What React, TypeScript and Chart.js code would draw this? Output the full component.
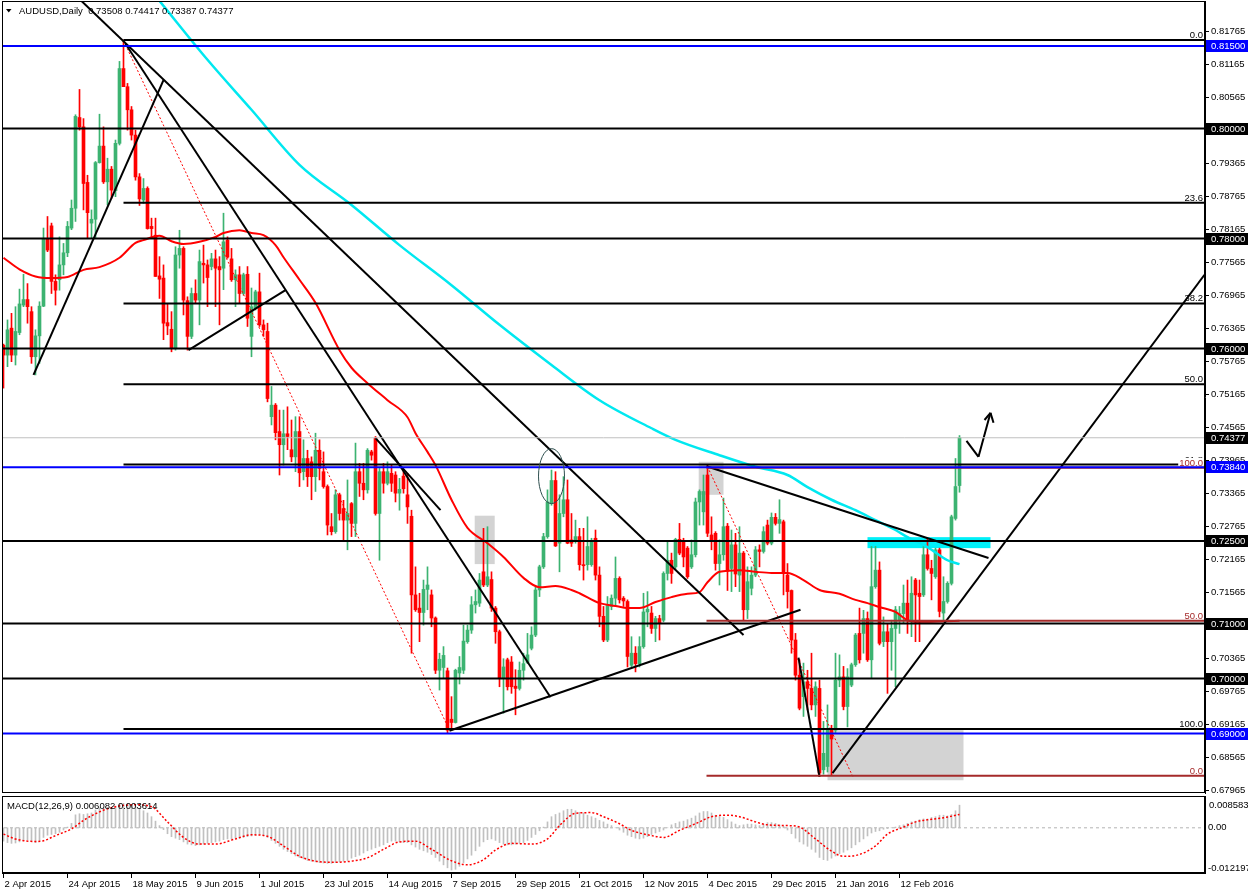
import { useEffect, useRef } from "react";
import { Chart, registerables } from "chart.js";

Chart.register(...registerables);

// AUDUSD daily, bar 0 = 2 Apr 2015
const dateLabels = [
  "2 Apr 2015", "24 Apr 2015", "18 May 2015", "9 Jun 2015", "1 Jul 2015", "23 Jul 2015", "14 Aug 2015",
  "7 Sep 2015", "29 Sep 2015", "21 Oct 2015", "12 Nov 2015", "4 Dec 2015", "29 Dec 2015", "21 Jan 2016", "12 Feb 2016",
];
const dateTickBars = [0, 16, 32, 48, 64, 80, 96, 112, 128, 144, 160, 176, 192, 208, 224];

const opens = [
  0.7606, 0.7588, 0.7637, 0.7588, 0.7629, 0.7679, 0.7689, 0.7667, 0.7585, 0.7623,
  0.7677, 0.7800, 0.7823, 0.7722, 0.7725, 0.7752, 0.7774, 0.7819, 0.7855, 0.8020,
  0.8003, 0.7902, 0.7828, 0.7835, 0.7938, 0.7968, 0.7903, 0.7926, 0.7887, 0.7973,
  0.8109, 0.8076, 0.8034, 0.7988, 0.7912, 0.7870, 0.7891, 0.7822, 0.7806, 0.7732,
  0.7728, 0.7647, 0.7635, 0.7600, 0.7770, 0.7782, 0.7687, 0.7622, 0.7700, 0.7688,
  0.7755, 0.7752, 0.7749, 0.7763, 0.7749, 0.7746, 0.7797, 0.7763, 0.7725, 0.7734,
  0.7700, 0.7735, 0.7622, 0.7673, 0.7703, 0.7643, 0.7631, 0.7476, 0.7497, 0.7449,
  0.7425, 0.7445, 0.7416, 0.7403, 0.7449, 0.7376, 0.7400, 0.7394, 0.7367, 0.7415,
  0.7376, 0.7349, 0.7276, 0.7267, 0.7334, 0.7309, 0.7288, 0.7318, 0.7282, 0.7376,
  0.7355, 0.7343, 0.7412, 0.7437, 0.7300, 0.7376, 0.7355, 0.7373, 0.7370, 0.7337,
  0.7368, 0.7334, 0.7295, 0.7152, 0.7128, 0.7120, 0.7162, 0.7152, 0.7110, 0.7015,
  0.7020, 0.7014, 0.6926, 0.6920, 0.7010, 0.7015, 0.7067, 0.7088, 0.7134, 0.7137,
  0.7194, 0.7170, 0.7180, 0.7128, 0.7085, 0.7000, 0.7034, 0.7030, 0.6986, 0.6982,
  0.7015, 0.7029, 0.7055, 0.7079, 0.7161, 0.7203, 0.7258, 0.7318, 0.7360, 0.7246,
  0.7300, 0.7325, 0.7252, 0.7252, 0.7258, 0.7207, 0.7207, 0.7207, 0.7255, 0.7188,
  0.7113, 0.7070, 0.7131, 0.7146, 0.7182, 0.7146, 0.7140, 0.7024, 0.7046, 0.7027,
  0.7058, 0.7121, 0.7119, 0.7091, 0.7109, 0.7106, 0.7191, 0.7215, 0.7203, 0.7253,
  0.7249, 0.7237, 0.7203, 0.7225, 0.7321, 0.7303, 0.7370, 0.7261, 0.7264, 0.7209,
  0.7225, 0.7277, 0.7200, 0.7243, 0.7188, 0.7228, 0.7125, 0.7164, 0.7188, 0.7234,
  0.7231, 0.7279, 0.7246, 0.7293, 0.7282, 0.7285, 0.7188, 0.7160, 0.7070, 0.7006,
  0.6967, 0.6994, 0.6982, 0.6952, 0.6982, 0.6834, 0.6840, 0.6906, 0.6906, 0.6997,
  0.7003, 0.6949, 0.6988, 0.7025, 0.7082, 0.7082, 0.7109, 0.7034, 0.7167, 0.7197,
  0.7067, 0.7085, 0.7067, 0.7091, 0.7106, 0.7118, 0.7137, 0.7106, 0.7179, 0.7155,
  0.7152, 0.7225, 0.7200, 0.7185, 0.7234, 0.7119, 0.7140, 0.7173, 0.7291, 0.73508,
];
const highs = [
  0.7608, 0.7652, 0.7664, 0.7676, 0.7708, 0.7735, 0.7718, 0.7676, 0.7634, 0.7685,
  0.7819, 0.7840, 0.7828, 0.7734, 0.7803, 0.7791, 0.7831, 0.7870, 0.8025, 0.8071,
  0.8018, 0.7915, 0.7852, 0.7940, 0.8026, 0.8003, 0.7946, 0.7931, 0.7979, 0.8122,
  0.8161, 0.8082, 0.8040, 0.7997, 0.7918, 0.7909, 0.7894, 0.7837, 0.7837, 0.7767,
  0.7752, 0.7682, 0.7667, 0.7785, 0.7815, 0.7785, 0.7694, 0.7710, 0.7725, 0.7779,
  0.7788, 0.7761, 0.7773, 0.7779, 0.7767, 0.7846, 0.7803, 0.7782, 0.7743, 0.7749,
  0.7737, 0.7749, 0.7710, 0.7706, 0.7737, 0.7652, 0.7646, 0.7531, 0.7500, 0.7488,
  0.7488, 0.7494, 0.7470, 0.7476, 0.7476, 0.7434, 0.7415, 0.7403, 0.7446, 0.7434,
  0.7412, 0.7352, 0.7300, 0.7343, 0.7337, 0.7324, 0.7361, 0.7320, 0.7428, 0.7391,
  0.7391, 0.7418, 0.7415, 0.7440, 0.7382, 0.7391, 0.7394, 0.7388, 0.7376, 0.7364,
  0.7376, 0.7373, 0.7306, 0.7203, 0.7155, 0.7179, 0.7203, 0.7161, 0.7112, 0.7046,
  0.7058, 0.7019, 0.6967, 0.7017, 0.7040, 0.7097, 0.7097, 0.7149, 0.7161, 0.7191,
  0.7273, 0.7276, 0.7194, 0.7131, 0.7088, 0.7036, 0.7037, 0.7040, 0.7016, 0.7030,
  0.7046, 0.7082, 0.7094, 0.7167, 0.7206, 0.7264, 0.7343, 0.7379, 0.7376, 0.7334,
  0.7367, 0.7361, 0.7300, 0.7288, 0.7273, 0.7273, 0.7294, 0.7255, 0.7270, 0.7203,
  0.7131, 0.7149, 0.7152, 0.7221, 0.7185, 0.7149, 0.7143, 0.7076, 0.7058, 0.7076,
  0.7155, 0.7158, 0.7131, 0.7113, 0.7115, 0.7194, 0.7249, 0.7228, 0.7255, 0.7282,
  0.7255, 0.7240, 0.7252, 0.7328, 0.7343, 0.7370, 0.7388, 0.7294, 0.7267, 0.7252,
  0.7328, 0.7282, 0.7270, 0.7264, 0.7276, 0.7231, 0.7203, 0.7203, 0.7240, 0.7243,
  0.7276, 0.7288, 0.7301, 0.7300, 0.7325, 0.7288, 0.7209, 0.7161, 0.7082, 0.7034,
  0.7028, 0.7015, 0.7046, 0.6994, 0.6997, 0.6922, 0.6952, 0.6915, 0.7046, 0.7043,
  0.7022, 0.7018, 0.7028, 0.7082, 0.7128, 0.7124, 0.7121, 0.7240, 0.7240, 0.7212,
  0.7112, 0.7100, 0.7106, 0.7131, 0.7131, 0.7170, 0.7179, 0.7185, 0.7182, 0.7179,
  0.7240, 0.7255, 0.7215, 0.7237, 0.7237, 0.7185, 0.7176, 0.7297, 0.7400, 0.74417,
];
const lows = [
  0.7528, 0.7567, 0.7576, 0.7570, 0.7625, 0.7676, 0.7646, 0.7573, 0.7552, 0.7573,
  0.7676, 0.7776, 0.7700, 0.7679, 0.7706, 0.7734, 0.7767, 0.7816, 0.7831, 0.7997,
  0.7852, 0.7800, 0.7800, 0.7800, 0.7937, 0.7900, 0.7861, 0.7873, 0.7876, 0.7970,
  0.8076, 0.7997, 0.7979, 0.7906, 0.7860, 0.7864, 0.7817, 0.7803, 0.7731, 0.7691,
  0.7616, 0.7625, 0.7594, 0.7597, 0.7746, 0.7661, 0.7597, 0.7618, 0.7682, 0.7643,
  0.7719, 0.7676, 0.7743, 0.7676, 0.7643, 0.7707, 0.7764, 0.7722, 0.7676, 0.7682,
  0.7697, 0.7640, 0.7585, 0.7670, 0.7640, 0.7622, 0.7503, 0.7461, 0.7434, 0.7370,
  0.7388, 0.7416, 0.7394, 0.7376, 0.7349, 0.7361, 0.7349, 0.7325, 0.7340, 0.7361,
  0.7346, 0.7261, 0.7261, 0.7264, 0.7288, 0.7249, 0.7234, 0.7258, 0.7258, 0.7331,
  0.7325, 0.7337, 0.7397, 0.7297, 0.7215, 0.7337, 0.7352, 0.7340, 0.7321, 0.7306,
  0.7337, 0.7282, 0.7046, 0.7122, 0.7067, 0.7097, 0.7125, 0.7094, 0.7009, 0.6979,
  0.7000, 0.6901, 0.6906, 0.6919, 0.6990, 0.7009, 0.7064, 0.7082, 0.7119, 0.7131,
  0.7167, 0.7167, 0.7122, 0.7064, 0.6985, 0.6937, 0.6979, 0.6973, 0.6934, 0.6979,
  0.6997, 0.7027, 0.7052, 0.7076, 0.7149, 0.7200, 0.7255, 0.7315, 0.7240, 0.7194,
  0.7294, 0.7245, 0.7240, 0.7246, 0.7197, 0.7179, 0.7197, 0.7204, 0.7179, 0.7094,
  0.7067, 0.7067, 0.7125, 0.7131, 0.7137, 0.7131, 0.7021, 0.7021, 0.7012, 0.7021,
  0.7055, 0.7094, 0.7082, 0.7067, 0.7070, 0.7103, 0.7179, 0.7173, 0.7200, 0.7225,
  0.7203, 0.7182, 0.7200, 0.7221, 0.7279, 0.7279, 0.7258, 0.7234, 0.7197, 0.7170,
  0.7215, 0.7160, 0.7158, 0.7167, 0.7158, 0.7106, 0.7109, 0.7152, 0.7185, 0.7203,
  0.7228, 0.7243, 0.7243, 0.7279, 0.7264, 0.7152, 0.7128, 0.7046, 0.6997, 0.6943,
  0.6931, 0.6943, 0.6943, 0.6931, 0.6822, 0.6826, 0.6830, 0.6825, 0.6900, 0.6985,
  0.6943, 0.6912, 0.6985, 0.7022, 0.7028, 0.7046, 0.7031, 0.7000, 0.7164, 0.7061,
  0.7058, 0.6973, 0.7015, 0.6985, 0.7082, 0.7100, 0.7082, 0.7076, 0.7067, 0.7067,
  0.7149, 0.7197, 0.7143, 0.7182, 0.7112, 0.7106, 0.7137, 0.7170, 0.7288, 0.73387,
];
const closes = [
  0.7588, 0.7634, 0.7588, 0.7631, 0.7681, 0.7689, 0.7676, 0.7585, 0.7623, 0.7677,
  0.7800, 0.7779, 0.7722, 0.7706, 0.7752, 0.7774, 0.7822, 0.7855, 0.8022, 0.8003,
  0.7900, 0.7847, 0.7835, 0.7938, 0.7968, 0.7903, 0.7926, 0.7888, 0.7973, 0.8109,
  0.8076, 0.8034, 0.7988, 0.7912, 0.7872, 0.7891, 0.7818, 0.7818, 0.7731, 0.7726,
  0.7646, 0.7641, 0.7600, 0.7770, 0.7782, 0.7688, 0.7622, 0.7700, 0.7688, 0.7758,
  0.7752, 0.7729, 0.7763, 0.7746, 0.7743, 0.7794, 0.7766, 0.7725, 0.7734, 0.7700,
  0.7734, 0.7655, 0.7676, 0.7703, 0.7643, 0.7634, 0.7509, 0.7497, 0.7447, 0.7425,
  0.7445, 0.7440, 0.7403, 0.7449, 0.7374, 0.7400, 0.7367, 0.7367, 0.7415, 0.7382,
  0.7349, 0.7279, 0.7267, 0.7334, 0.7300, 0.7288, 0.7300, 0.7282, 0.7376, 0.7355,
  0.7343, 0.7415, 0.7406, 0.7300, 0.7376, 0.7355, 0.7376, 0.7355, 0.7337, 0.7344,
  0.7345, 0.7312, 0.7152, 0.7125, 0.7120, 0.7162, 0.7170, 0.7110, 0.7015, 0.7035,
  0.7042, 0.6906, 0.6920, 0.7015, 0.7020, 0.7068, 0.7088, 0.7134, 0.7140, 0.7179,
  0.7170, 0.7185, 0.7128, 0.7085, 0.7000, 0.7021, 0.6985, 0.6985, 0.6982, 0.7015,
  0.7027, 0.7043, 0.7079, 0.7161, 0.7203, 0.7258, 0.7321, 0.7360, 0.7241, 0.7300,
  0.7325, 0.7246, 0.7246, 0.7258, 0.7207, 0.7205, 0.7240, 0.7249, 0.7188, 0.7113,
  0.7070, 0.7134, 0.7146, 0.7182, 0.7143, 0.7141, 0.7040, 0.7046, 0.7027, 0.7058,
  0.7121, 0.7126, 0.7091, 0.7109, 0.7100, 0.7191, 0.7215, 0.7191, 0.7253, 0.7228,
  0.7221, 0.7185, 0.7225, 0.7321, 0.7340, 0.7340, 0.7264, 0.7252, 0.7209, 0.7225,
  0.7276, 0.7195, 0.7243, 0.7190, 0.7228, 0.7125, 0.7176, 0.7188, 0.7234, 0.7231,
  0.7267, 0.7246, 0.7293, 0.7282, 0.7289, 0.7191, 0.7158, 0.7070, 0.7006, 0.6946,
  0.6994, 0.6982, 0.6952, 0.6985, 0.6828, 0.6864, 0.6906, 0.6890, 0.6997, 0.7003,
  0.6949, 0.7003, 0.7025, 0.7079, 0.7034, 0.7109, 0.7034, 0.7167, 0.7197, 0.7064,
  0.7085, 0.7067, 0.7091, 0.7125, 0.7118, 0.7137, 0.7106, 0.7155, 0.7152, 0.7149,
  0.7225, 0.7200, 0.7191, 0.7234, 0.7122, 0.7140, 0.7173, 0.7294, 0.7349, 0.74377,
];

// moving averages, read at sample bars
const maFastBars = [
  0, 4, 8, 12, 16, 20, 24, 29, 33, 35, 39, 42, 45, 49, 53, 55, 59, 62, 65, 68,
  70, 74, 78, 84, 87, 91, 96, 101, 103, 106, 108, 112, 116, 121, 125, 130, 134, 138, 142, 144,
  149, 153, 156, 159, 163, 167, 171, 174, 176, 179, 184, 188, 192, 196, 200, 204, 209, 213, 216, 219,
  223, 226, 229, 239,
];
const maFastValues = [
  0.7765, 0.7744, 0.7731, 0.7728, 0.7730, 0.7743, 0.7748, 0.7765, 0.7792, 0.7797,
  0.7805, 0.7795, 0.7790, 0.7794, 0.7803, 0.7810, 0.7815, 0.7810, 0.7806, 0.7788,
  0.7766, 0.7725, 0.7683, 0.7597, 0.7565, 0.7537, 0.7506, 0.7475, 0.7446, 0.7412,
  0.7388, 0.7325, 0.7274, 0.7246, 0.7221, 0.7183, 0.7166, 0.7168, 0.7161, 0.7155,
  0.7137, 0.7132, 0.7128, 0.7128, 0.7139, 0.7148, 0.7154, 0.7157, 0.7175, 0.7194,
  0.7197, 0.7194, 0.7192, 0.7192, 0.7179, 0.7161, 0.7154, 0.7143, 0.7137, 0.7130,
  0.7121, 0.7106, 0.7103, 0.7105,
];
const maSlowBars = [39, 51, 62, 74, 87, 99, 112, 124, 137, 149, 162, 168, 179, 188, 196, 201, 207, 213, 218, 223, 226, 231, 236, 239];
const maSlowValues = [
  0.8232, 0.8125, 0.8034, 0.7934, 0.7861, 0.7788, 0.7715, 0.7643, 0.7570, 0.7506, 0.7455, 0.7434,
  0.7406, 0.7385, 0.7370, 0.7348, 0.7325, 0.7306, 0.7288, 0.7270, 0.7257, 0.7239, 0.7215, 0.7208,
];

// MACD(12,26,9) main value per bar, signal read at sample bars
const macdHist = [
  -0.0036, -0.0040, -0.0042, -0.0041, -0.0038, -0.0034, -0.0032, -0.0036, -0.0040, -0.0035, -0.0026,
  -0.0020, -0.0018, -0.0016, -0.0012, -0.0006, 0.0002,
  0.0012, 0.0035, 0.0038, 0.0036, 0.0038, 0.0040, 0.0048,
  0.0054, 0.0054, 0.0055, 0.0054, 0.0058, 0.0064, 0.0066, 0.0064, 0.0062, 0.0058, 0.0052,
  0.0046, 0.0040, 0.0030, 0.0018, 0.0006, -0.0005,
  -0.0016, -0.0024, -0.0028, -0.0032, -0.0038, -0.0044, -0.0046, -0.0048, -0.0046, -0.0044,
  -0.0042, -0.0040, -0.0038, -0.0036, -0.0032, -0.0030, -0.0030, -0.0028, -0.0028, -0.0026,
  -0.0024, -0.0022, -0.0020, -0.0018, -0.0020, -0.0026,
  -0.0034, -0.0042, -0.0050, -0.0058, -0.0064, -0.0070,
  -0.0076, -0.0080, -0.0084, -0.0088, -0.0090, -0.0092, -0.0094, -0.0095,
  -0.0096, -0.0096, -0.0094, -0.0092, -0.0090, -0.0088, -0.0082, -0.0078,
  -0.0074, -0.0068, -0.0062, -0.0058, -0.0054, -0.0050, -0.0046,
  -0.0040, -0.0036, -0.0036, -0.0038, -0.0040, -0.0040,
  -0.0046, -0.0052, -0.0058, -0.0062, -0.0066, -0.0072,
  -0.0080, -0.0090, -0.0100, -0.0108, -0.0114, -0.0112,
  -0.0104, -0.0094, -0.0084, -0.0074, -0.0062, -0.0050, -0.0038,
  -0.0032, -0.0030, -0.0034, -0.0040, -0.0044, -0.0046,
  -0.0046, -0.0044, -0.0042, -0.0040, -0.0034, -0.0026,
  -0.0018, -0.0008, 0.0002, 0.0016, 0.0030, 0.0036,
  0.0040, 0.0046, 0.0050, 0.0050, 0.0046, 0.0042,
  0.0040, 0.0034, 0.0030, 0.0026, 0.0020, 0.0016,
  0.0010, 0.0006, 0.0000, -0.0006, -0.0012, -0.0020,
  -0.0024, -0.0028, -0.0030, -0.0028, -0.0024, -0.0018,
  -0.0014, -0.0010, -0.0006, 0.0000, 0.0008, 0.0012,
  0.0016, 0.0018, 0.0022, 0.0026, 0.0032, 0.0040,
  0.0044, 0.0044, 0.0040, 0.0034, 0.0030, 0.0028,
  0.0022, 0.0016, 0.0010, 0.0006, 0.0008, 0.0010,
  0.0010, 0.0008, 0.0006, 0.0010, 0.0014, 0.0014,
  0.0012, 0.0008, 0.0004, -0.0006, -0.0016, -0.0028,
  -0.0038, -0.0044, -0.0050, -0.0058, -0.0066, -0.0080,
  -0.0086, -0.0088, -0.0082, -0.0076, -0.0070, -0.0066,
  -0.0060, -0.0054, -0.0046, -0.0038, -0.0030, -0.0022,
  -0.0014, -0.0010, -0.0008, -0.0004, -0.0002, 0.0000,
  0.0002, 0.0006, 0.0008, 0.0012, 0.0016, 0.0018,
  0.0022, 0.0024, 0.0024, 0.0028, 0.0030, 0.0034,
  0.0034, 0.0032, 0.0036, 0.0046, 0.0061,
];
const signalBars = [
  0, 3, 8, 10, 13, 17, 20, 24, 28, 33, 37, 41, 45, 49, 53, 58, 62, 66, 70, 74,
  78, 83, 87, 91, 95, 99, 103, 107, 112, 116, 120, 123, 127, 132, 136, 139, 143, 147, 150, 154,
  157, 162, 165, 169, 173, 177, 181, 184, 188, 191, 196, 199, 203, 207, 210, 214, 218, 221, 225, 228,
  232, 235, 239,
];
const signalValues = [
  -0.0017, -0.0030, -0.0037, -0.0035, -0.0021, -0.0003, 0.0020, 0.0043, 0.0057, 0.0062,
  0.0057, 0.0016, -0.0026, -0.0044, -0.0044, -0.0030, -0.0019, -0.0023, -0.0049, -0.0077,
  -0.0090, -0.0093, -0.0090, -0.0081, -0.0058, -0.0038, -0.0036, -0.0058, -0.0089, -0.0100,
  -0.0086, -0.0060, -0.0042, -0.0044, -0.0030, 0.0006, 0.0039, 0.0041, 0.0030, 0.0011,
  -0.0007, -0.0021, -0.0026, -0.0007, 0.0011, 0.0030, 0.0034, 0.0030, 0.0016, 0.0008,
  0.0006, 0.0002, -0.0030, -0.0063, -0.0077, -0.0072, -0.0049, -0.0017, 0.0002, 0.0016,
  0.0023, 0.0027, 0.0036,
];
const macdMax = 0.008583;
const macdMin = -0.012197;

const priceTicks = [
  0.67965, 0.68565, 0.69165, 0.69765, 0.70365, 0.70965, 0.71565, 0.72165, 0.72765, 0.73365, 0.73965, 0.74565,
  0.75165, 0.75765, 0.76365, 0.76965, 0.77565, 0.78165, 0.78765, 0.79365, 0.79965, 0.80565, 0.81165, 0.81765,
];

// horizontal levels and fibonacci grids
const levelPrices = [0.815, 0.8, 0.78, 0.76, 0.7384, 0.725, 0.71, 0.7, 0.69];
const levelColors = ["#0000ff", "#000", "#000", "#000", "#0000ff", "#000", "#000", "#000", "#0000ff"];
const fibPrices = [0.8161, 0.7865, 0.7682, 0.7535, 0.7389, 0.6908];
const fibLabels = ["0.0", "23.6", "38.2", "50.0", "61.8", "100.0"];
const fibStartBar = 30;
const fibRedPrices = [0.7383, 0.7105, 0.6823];
const fibRedLabels = ["100.0", "50.0", "0.0"];
const fibRedStartBar = 175.75;
const markPrices = [0.815, 0.8, 0.78, 0.76, 0.74377, 0.7384, 0.725, 0.71, 0.7, 0.69];
const markColors = ["#0000ff", "#000", "#000", "#000", "#000", "#0000ff", "#000", "#000", "#000", "#0000ff"];
const bidPrice = 0.74377;

// drawn objects: [bar1, price1, bar2, price2]
const trendLines = [
  [30.5, 0.8154, 136.75, 0.6966],
  [18.75, 0.8237, 185, 0.7079],
  [7.5, 0.7552, 40, 0.8088],
  [46.25, 0.7597, 70.5, 0.7706],
  [93, 0.7437, 109.25, 0.7306],
  [111.5, 0.6905, 199.25, 0.7125],
  [175.75, 0.7386, 246.25, 0.7219],
  [198.75, 0.7038, 204, 0.6821],
  [207.25, 0.6828, 300.25, 0.7734],
  [240.75, 0.7432, 243.75, 0.7403],
  [243.75, 0.7403, 246.75, 0.7483],
  [246.75, 0.7483, 245.25, 0.7470],
  [246.75, 0.7483, 247.5, 0.7465],
];
const dottedLines = [
  [30.5, 0.8152, 111.5, 0.6906],
  [176, 0.7385, 212.5, 0.6819],
];
const zoneBoxes = [
  [117.8, 0.7296, 122.8, 0.7208],
  [173.8, 0.7394, 180, 0.7334],
  [206, 0.6906, 240, 0.6815],
  [216, 0.7257, 246.75, 0.7237],
];
const zoneColors = ["#d3d3d3", "#d3d3d3", "#d3d3d3", "#00f0f8"];
const circleMark = [137, 0.7368, 3.25, 0.005];

const xMin = -0.375;
const xMax = 300.375;
const priceMin = 0.679182;
const priceMax = 0.823182;

const GREEN = "#3cb371";
const RED = "#ff0000";
const FIB_RED = "#a52a2a";
const FONT = "'Liberation Sans', Arial, sans-serif";
const axisFont = { family: FONT, size: 9.5 };

function seg(x1: number, y1: number, x2: number, y2: number, color: string, width: number, dash: number[] = []) {
  return {
    type: "line",
    data: [{ x: x1, y: y1 }, { x: x2, y: y2 }],
    borderColor: color,
    borderWidth: width,
    borderDash: dash,
    pointRadius: 0,
    fill: false,
    tension: 0,
    order: 0,
  };
}

// no label padding: the plot area must keep its exact pixel box
function fixWidth(s: any) {
  s.width = 43;
  s.paddingTop = 0;
  s.paddingBottom = 0;
}

const mainOverlay = {
  id: "mainOverlay",
  beforeDatasetsDraw(chart: any) {
    const { ctx, chartArea: a, scales } = chart;
    const x = scales.x;
    const y = scales.y;
    ctx.save();
    ctx.beginPath();
    ctx.rect(a.left, a.top, a.width, a.height);
    ctx.clip();
    zoneBoxes.forEach((b, i) => {
      const x1 = x.getPixelForValue(b[0]);
      const x2 = x.getPixelForValue(b[2]);
      const y1 = y.getPixelForValue(b[1]);
      const y2 = y.getPixelForValue(b[3]);
      ctx.fillStyle = zoneColors[i];
      ctx.fillRect(x1, y1, x2 - x1, y2 - y1);
    });
    ctx.restore();
  },
  afterDatasetsDraw(chart: any) {
    const { ctx, chartArea: a, scales } = chart;
    const x = scales.x;
    const y = scales.y;
    ctx.save();

    // circle around the October top
    const cx = x.getPixelForValue(circleMark[0]);
    const cy = y.getPixelForValue(circleMark[1]);
    const rx = Math.abs(x.getPixelForValue(circleMark[0] + circleMark[2]) - cx);
    const ry = Math.abs(y.getPixelForValue(circleMark[1] + circleMark[3]) - cy);
    ctx.strokeStyle = "#2f4f4f";
    ctx.lineWidth = 1;
    ctx.beginPath();
    ctx.ellipse(cx, cy, rx, ry, 0, 0, Math.PI * 2);
    ctx.stroke();

    // fibonacci level labels
    ctx.font = `9.5px ${FONT}`;
    ctx.textAlign = "right";
    ctx.textBaseline = "alphabetic";
    fibPrices.forEach((p, i) => {
      ctx.fillStyle = "#000";
      ctx.fillText(fibLabels[i], a.right - 2, y.getPixelForValue(p) - 2);
    });
    fibRedPrices.forEach((p, i) => {
      const yy = y.getPixelForValue(p) - 2;
      const w = ctx.measureText(fibRedLabels[i]).width;
      ctx.fillStyle = "#fff";
      ctx.fillRect(a.right - 3 - w, yy - 8, w + 2, 8);
      ctx.fillStyle = FIB_RED;
      ctx.fillText(fibRedLabels[i], a.right - 2, yy);
    });

    // header
    ctx.fillStyle = "#000";
    ctx.beginPath();
    ctx.moveTo(6, 9);
    ctx.lineTo(11.5, 9);
    ctx.lineTo(8.75, 12.5);
    ctx.closePath();
    ctx.fill();
    ctx.textAlign = "left";
    ctx.textBaseline = "middle";
    ctx.fillText("AUDUSD,Daily  0.73508 0.74417 0.73387 0.74377", 19, 11);
    ctx.restore();
  },
  afterDraw(chart: any) {
    const { ctx, chartArea: a, scales } = chart;
    const y = scales.y;
    ctx.save();
    ctx.strokeStyle = "#000";
    ctx.lineWidth = 1;
    ctx.strokeRect(a.left + 0.5, a.top + 0.5, a.width - 1, a.height - 1);
    ctx.font = `9.5px ${FONT}`;
    ctx.textAlign = "left";
    ctx.textBaseline = "middle";
    markPrices.forEach((p, i) => {
      const yy = Math.round(y.getPixelForValue(p));
      ctx.fillStyle = markColors[i];
      ctx.fillRect(a.right + 1, yy - 6, 43, 12);
      ctx.fillStyle = "#fff";
      ctx.fillText(p.toFixed(5), a.right + 6, yy + 0.5);
    });
    ctx.restore();
  },
};

const macdOverlay = {
  id: "macdOverlay",
  afterDraw(chart: any) {
    const { ctx, chartArea: a, scales } = chart;
    const y = scales.y;
    ctx.save();
    ctx.strokeStyle = "#000";
    ctx.lineWidth = 1;
    ctx.strokeRect(a.left + 0.5, a.top + 0.5, a.width - 1, a.height - 1);
    ctx.font = `9.5px ${FONT}`;
    ctx.fillStyle = "#000";
    ctx.textBaseline = "middle";
    ctx.textAlign = "left";
    ctx.fillText("MACD(12,26,9) 0.006082 0.003614", 7, a.top + 10);
    ctx.fillText(macdMax.toFixed(6), a.right + 4, a.top + 9);
    ctx.fillText("0.00", a.right + 3, y.getPixelForValue(0));
    ctx.fillText(macdMin.toFixed(6), a.right + 3, a.bottom - 5);
    ctx.restore();
  },
};

export default function App() {
  const mainRef = useRef<HTMLCanvasElement>(null);
  const macdRef = useRef<HTMLCanvasElement>(null);

  useEffect(() => {
    if (!mainRef.current || !macdRef.current) return;

    const candleColors = closes.map((c, i) => (c >= opens[i] ? GREEN : RED));

    const lineSets: any[] = [];
    levelPrices.forEach((p, i) => lineSets.push(seg(xMin - 1, p, xMax + 1, p, levelColors[i], 2)));
    fibPrices.forEach((p) => lineSets.push(seg(fibStartBar, p, xMax + 1, p, "#000", 2)));
    fibRedPrices.forEach((p) => lineSets.push(seg(fibRedStartBar, p, xMax + 1, p, FIB_RED, 2)));
    lineSets.push(seg(xMin - 1, bidPrice, xMax + 1, bidPrice, "#c0c0c0", 1));
    trendLines.forEach((t) => lineSets.push(seg(t[0], t[1], t[2], t[3], "#000", 2)));
    dottedLines.forEach((t) => lineSets.push(seg(t[0], t[1], t[2], t[3], RED, 1, [2, 2])));

    const main = new Chart(mainRef.current, {
      type: "bar",
      data: {
        datasets: [
          ...lineSets,
          {
            type: "line",
            data: maFastBars.map((b, i) => ({ x: b, y: maFastValues[i] })),
            borderColor: RED,
            borderWidth: 2,
            pointRadius: 0,
            cubicInterpolationMode: "monotone",
            order: 1,
          },
          {
            type: "line",
            data: maSlowBars.map((b, i) => ({ x: b, y: maSlowValues[i] })),
            borderColor: "#00e8f0",
            borderWidth: 2.5,
            pointRadius: 0,
            cubicInterpolationMode: "monotone",
            order: 1,
          },
          {
            type: "bar",
            data: opens.map((o, i) => ({ x: i, y: [o, closes[i]] })),
            backgroundColor: candleColors,
            barThickness: 3,
            minBarLength: 1,
            grouped: false,
            order: 2,
          },
          {
            type: "bar",
            data: lows.map((l, i) => ({ x: i, y: [l, highs[i]] })),
            backgroundColor: candleColors,
            barThickness: 1,
            grouped: false,
            order: 3,
          },
        ],
      },
      options: {
        responsive: true,
        maintainAspectRatio: false,
        animation: false,
        events: [],
        layout: { padding: { left: 2, top: 1, right: 0, bottom: 2 } },
        plugins: { legend: { display: false }, tooltip: { enabled: false } },
        scales: {
          x: { type: "linear", display: false, min: xMin, max: xMax, offset: false },
          y: {
            type: "linear",
            position: "right",
            min: priceMin,
            max: priceMax,
            afterFit: fixWidth,
            afterBuildTicks: (s: any) => {
              s.ticks = priceTicks.map((v) => ({ value: v }));
            },
            ticks: {
              autoSkip: false,
              padding: 2,
              color: "#000",
              font: axisFont,
              callback: (v: any) => Number(v).toFixed(5),
            },
            grid: { drawOnChartArea: false, tickLength: 4, color: "#000" },
            border: { display: true, color: "#000" },
          },
        },
      },
      plugins: [mainOverlay],
    } as any);

    const macd = new Chart(macdRef.current, {
      type: "bar",
      data: {
        datasets: [
          {
            type: "line",
            data: signalBars.map((b, i) => ({ x: b, y: signalValues[i] })),
            borderColor: RED,
            borderWidth: 1.5,
            borderDash: [2, 2],
            pointRadius: 0,
            cubicInterpolationMode: "monotone",
            order: 0,
          },
          {
            type: "bar",
            data: macdHist.map((v, i) => ({ x: i, y: v })),
            backgroundColor: "#c0c0c0",
            barThickness: 1,
            grouped: false,
            order: 1,
          },
          { ...seg(xMin - 1, 0, xMax + 1, 0, "#b4b4b4", 1, [3, 3]), order: 2 },
        ],
      },
      options: {
        responsive: true,
        maintainAspectRatio: false,
        animation: false,
        events: [],
        layout: { padding: { left: 2, top: 1, right: 0, bottom: 0 } },
        plugins: { legend: { display: false }, tooltip: { enabled: false } },
        scales: {
          x: {
            type: "linear",
            min: xMin,
            max: xMax,
            offset: false,
            afterFit: (s: any) => {
              s.height = 22;
              s.paddingLeft = 0;
              s.paddingRight = 0;
            },
            afterBuildTicks: (s: any) => {
              s.ticks = dateTickBars.map((v) => ({ value: v }));
            },
            ticks: {
              autoSkip: false,
              maxRotation: 0,
              minRotation: 0,
              align: "start",
              labelOffset: 1,
              padding: 1,
              color: "#000",
              font: axisFont,
              callback: (_v: any, i: number) => dateLabels[i],
            },
            grid: { drawOnChartArea: false, tickLength: 5, color: "#000", offset: false },
            border: { display: true, color: "#000" },
          },
          y: {
            type: "linear",
            position: "right",
            min: macdMin,
            max: macdMax,
            afterFit: fixWidth,
            ticks: { display: false },
            grid: { display: false },
            border: { display: true, color: "#000" },
          },
        },
      },
      plugins: [macdOverlay],
    } as any);

    return () => {
      main.destroy();
      macd.destroy();
    };
  }, []);

  return (
    <div style={{ position: "absolute", left: 0, top: 0, width: 1248, height: 895, background: "#fff" }}>
      <div style={{ position: "absolute", left: 0, top: 0, width: 1248, height: 795 }}>
        <canvas ref={mainRef} />
      </div>
      <div style={{ position: "absolute", left: 0, top: 795, width: 1248, height: 100 }}>
        <canvas ref={macdRef} />
      </div>
    </div>
  );
}
